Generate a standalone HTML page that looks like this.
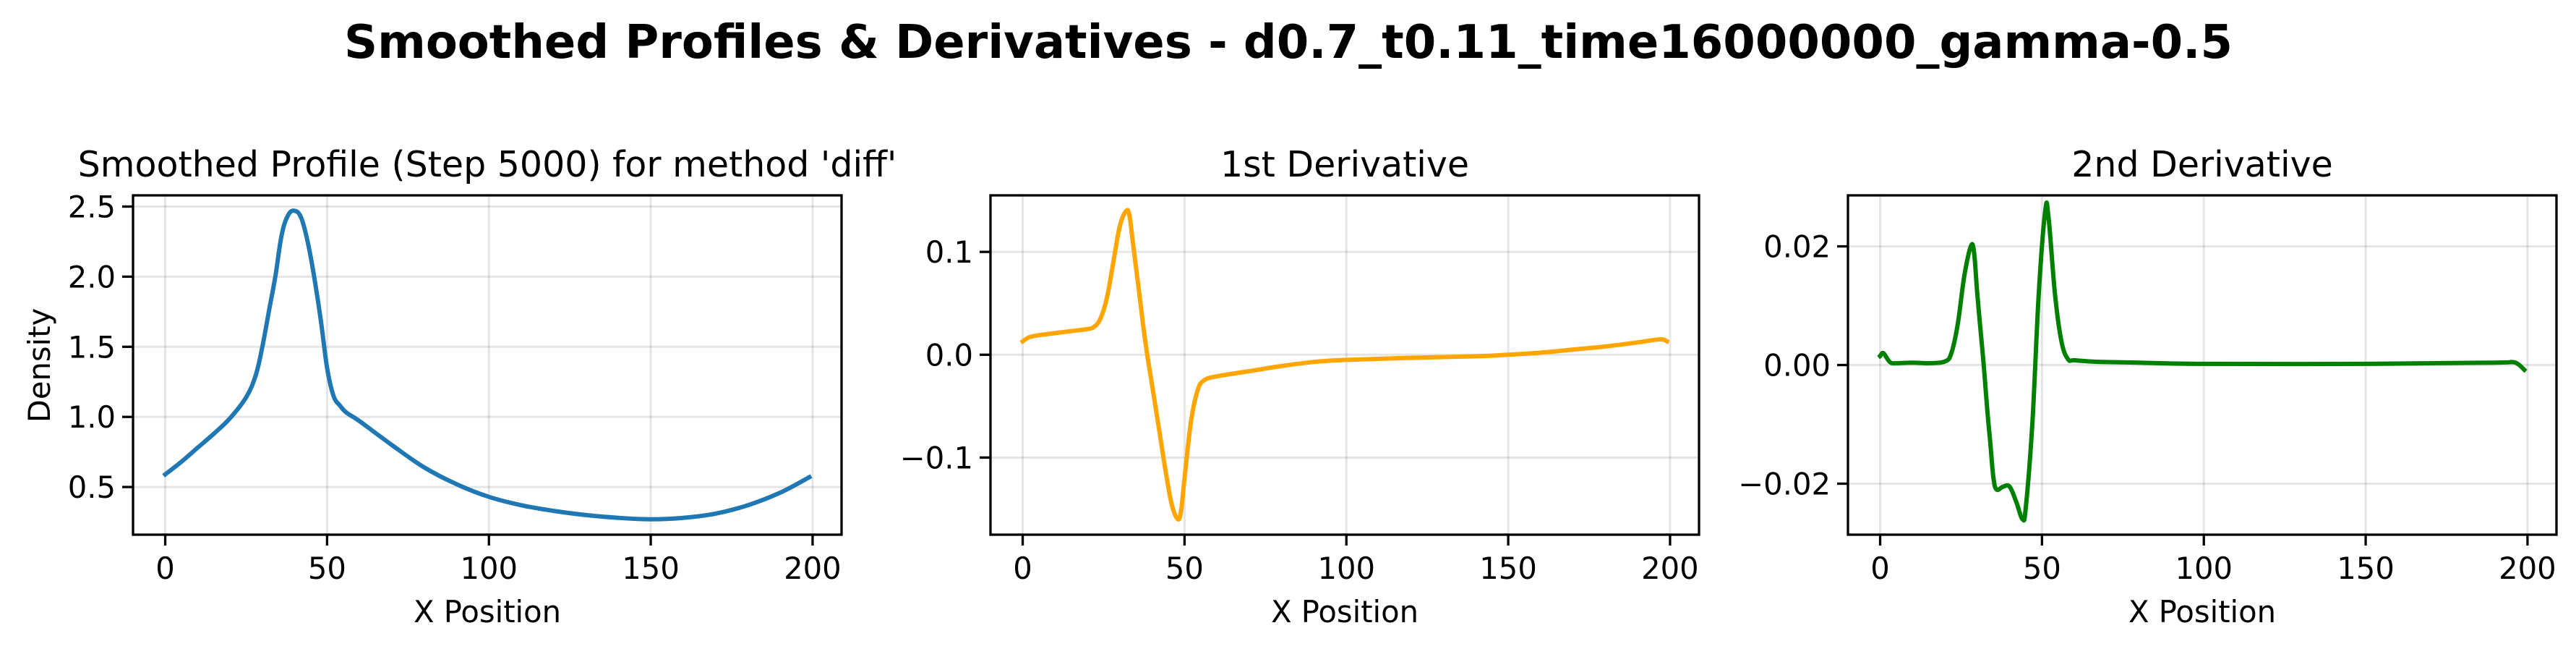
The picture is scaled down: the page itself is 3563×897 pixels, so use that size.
<!DOCTYPE html>
<html><head><meta charset="utf-8"><style>
html,body{margin:0;padding:0;background:#fff;}
svg{display:block;font-family:"DejaVu Sans","Liberation Sans",sans-serif;}
</style></head><body>
<svg id="fig" width="3563" height="897" viewBox="0 0 3563 897" xmlns="http://www.w3.org/2000/svg">
<text x="1782" y="80" text-anchor="middle" font-size="64" font-weight="bold">Smoothed Profiles &amp; Derivatives - d0.7_t0.11_time16000000_gamma-0.5</text>
</svg>
<script>
const densX = [0,5,10,15,20,25,28,30,32,34,36,38,40,42,44,46,48,50,52,54,56,60,70,80,90,100,110,120,130,140,150,160,170,180,190,199];
const densY = [0.59,0.68,0.78,0.88,0.99,1.14,1.3,1.5,1.75,2.0,2.3,2.44,2.47,2.42,2.25,2.0,1.7,1.35,1.15,1.08,1.03,0.97,0.8,0.64,0.52,0.43,0.37,0.33,0.30,0.28,0.27,0.28,0.31,0.37,0.46,0.57];
const d1X = [0,2,5,10,15,20,22,24,26,28,30,32,33,34,36,38,40,42,44,46,48,49,50,52,54,56,60,70,80,90,100,120,140,150,160,170,180,190,197,199];
const d1Y = [0.013,0.017,0.019,0.021,0.023,0.025,0.027,0.035,0.055,0.09,0.125,0.14,0.135,0.11,0.06,0.01,-0.03,-0.07,-0.11,-0.145,-0.16,-0.15,-0.12,-0.065,-0.035,-0.025,-0.021,-0.016,-0.011,-0.007,-0.005,-0.003,-0.0015,0,0.002,0.005,0.008,0.012,0.015,0.013];
const d2X = [0,1,3,5,10,15,20,22,24,26,28,29,30,31,32,33,34,35,36,38,40,42,44,45,47,49,51,52,54,56,58,60,65,70,80,100,150,190,195,197,199];
const d2Y = [0.0015,0.002,0.0005,0.0003,0.0004,0.0003,0.0006,0.002,0.007,0.015,0.020,0.019,0.012,0.006,0.0,-0.007,-0.013,-0.019,-0.021,-0.0205,-0.0205,-0.023,-0.026,-0.024,-0.01,0.012,0.026,0.025,0.012,0.004,0.001,0.0008,0.0006,0.0005,0.0004,0.0002,0.0002,0.0004,0.0005,0.0002,-0.0008];
const xTicks = [0,50,100,150,200];
const yTicks1 = [0.5,1.0,1.5,2.0,2.5];
const yTickLabels1 = ["0.5","1.0","1.5","2.0","2.5"];
const yTicks2 = [-0.1,0.0,0.1];
const yTickLabels2 = ["\u22120.1","0.0","0.1"];
const yTicks3 = [-0.02,0.0,0.02];
const yTickLabels3 = ["\u22120.02","0.00","0.02"];

const NS = "http://www.w3.org/2000/svg";
const svg = document.getElementById('fig');
function mk(tag, attrs, parent){const e=document.createElementNS(NS,tag);for(const k in attrs)e.setAttribute(k,attrs[k]);(parent||svg).appendChild(e);return e;}

function smoothPath(P){
  let d='M'+P[0][0].toFixed(1)+' '+P[0][1].toFixed(1);
  for(let i=0;i<P.length-1;i++){
    const p0=P[Math.max(0,i-1)],p1=P[i],p2=P[i+1],p3=P[Math.min(P.length-1,i+2)];
    const t=0.18;
    const c1=[p1[0]+(p2[0]-p0[0])*t,p1[1]+(p2[1]-p0[1])*t];
    const c2=[p2[0]-(p3[0]-p1[0])*t,p2[1]-(p3[1]-p1[1])*t];
    d+=' C'+c1[0].toFixed(1)+' '+c1[1].toFixed(1)+' '+c2[0].toFixed(1)+' '+c2[1].toFixed(1)+' '+p2[0].toFixed(1)+' '+p2[1].toFixed(1);
  }
  return d;
}

function panel(cfg){
  const L=cfg.left,R=cfg.left+980,T=270,B=739;
  const g=mk('g',{});
  
  
  let xmin=Math.min(...cfg.xs),xmax=Math.max(...cfg.xs);
  let ymin=Math.min(...cfg.ys),ymax=Math.max(...cfg.ys);
  const xm=(xmax-xmin)*0.05, ym=(ymax-ymin)*0.05;
  xmin-=xm;xmax+=xm;ymin-=ym;ymax+=ym;
  const sx=v=>L+(v-xmin)/(xmax-xmin)*(R-L);
  const sy=v=>B-(v-ymin)/(ymax-ymin)*(B-T);
  xTicks.forEach(t=>{const x=sx(t);
    const l=mk('line',{x1:x,x2:x,y1:T,y2:B,stroke:'#000','stroke-opacity':0.1,'stroke-width':3},g);
    
    
  });
  cfg.yt.forEach(t=>{const y=sy(t);
    const l=mk('line',{x1:L,x2:R,y1:y,y2:y,stroke:'#000','stroke-opacity':0.1,'stroke-width':3},g);
    
    
  });
  const pts=cfg.xs.map((x,i)=>[sx(x),sy(cfg.ys[i])]);
  const p=mk('path',{d:smoothPath(pts),fill:'none',stroke:cfg.color,'stroke-width':6,'stroke-linejoin':'round','stroke-linecap':'square'},g);
  
  
  const fr=mk('rect',{x:L,y:T,width:R-L,height:B-T,fill:'none',stroke:'#000','stroke-width':3.3},g);
  
  
  xTicks.forEach(t=>{const x=sx(t);
    mk('line',{x1:x,x2:x,y1:B,y2:B+15,stroke:'#000','stroke-width':3.3},g);
    const tx=mk('text',{x:x,y:800,'text-anchor':'middle','font-size':41.7},g);
    tx.textContent=t;
    
    
  });
  cfg.yt.forEach((t,i)=>{const y=sy(t);
    mk('line',{x1:L,x2:L-15,y1:y,y2:y,stroke:'#000','stroke-width':3.3},g);
    const tx=mk('text',{x:L-24,y:y+15,'text-anchor':'end','font-size':41.7},g);
    tx.textContent=cfg.ytl[i];
    
    
  });
  const xl=mk('text',{x:(L+R)/2,y:860,'text-anchor':'middle','font-size':41.7},g);
  xl.textContent='X Position';
  
  
  const ti=mk('text',{x:(L+R)/2,y:244,'text-anchor':'middle','font-size':49},g);
  ti.textContent=cfg.title;
  
  
  if(cfg.ylabel){
    const yl=mk('text',{x:0,y:0,'text-anchor':'middle','font-size':41.7,transform:'translate(69,505) rotate(-90)'},g);
    yl.textContent=cfg.ylabel;
    
    
  }
}
panel({name:'density-panel',lineName:'density-line',left:184,xs:densX,ys:densY,yt:yTicks1,ytl:yTickLabels1,color:'#1f77b4',title:"Smoothed Profile (Step 5000) for method 'diff'",ylabel:'Density'});
panel({name:'first-derivative-panel',lineName:'first-derivative-line',left:1370,xs:d1X,ys:d1Y,yt:yTicks2,ytl:yTickLabels2,color:'#ffa500',title:'1st Derivative'});
panel({name:'second-derivative-panel',lineName:'second-derivative-line',left:2556,xs:d2X,ys:d2Y,yt:yTicks3,ytl:yTickLabels3,color:'#008000',title:'2nd Derivative'});
</script>
</body></html>
